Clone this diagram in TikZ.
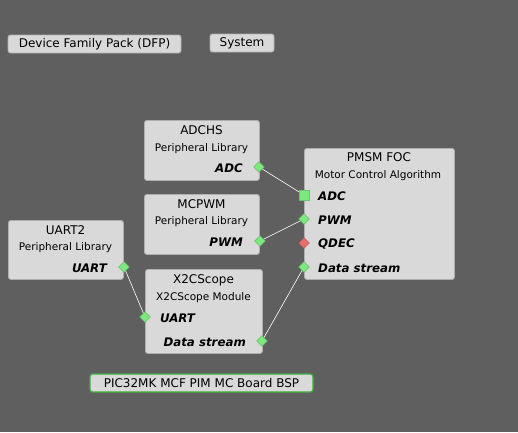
\documentclass[tikz,border=0pt]{standalone}
\usepackage{fontspec}
\setmainfont{DejaVu Sans}
\usetikzlibrary{shapes.geometric}
\definecolor{bg}{RGB}{95,95,95}
\definecolor{boxfill}{RGB}{217,217,217}
\definecolor{boxline}{RGB}{175,175,175}
\definecolor{portg}{RGB}{125,232,125}
\definecolor{portr}{RGB}{232,110,110}
\definecolor{bspline}{RGB}{60,175,60}
\tikzset{
  comp/.style={draw=boxline, fill=boxfill, rounded corners=2.5pt, line width=0.9pt, anchor=north west, inner sep=0},
  btn/.style={draw=boxline, fill=boxfill, rounded corners=2.5pt, line width=0.9pt, inner sep=0, font=\fontsize{12}{14}\selectfont},
  ttl/.style={font=\fontsize{12}{14}\selectfont, inner sep=0},
  sub/.style={font=\fontsize{10.5}{12}\selectfont, inner sep=0},
  prt/.style={font=\fontsize{11.8}{14}\selectfont\bfseries\itshape, inner sep=0},
  gport/.style={diamond, fill=portg, draw=portg!75!black, line width=0.3pt, inner sep=0, minimum size=11},
  rport/.style={diamond, fill=portr, draw=portr!75!black, line width=0.3pt, inner sep=0, minimum size=11},
  sport/.style={rectangle, fill=portg, draw=portg!85!black, line width=0.3pt, inner sep=0, minimum size=10},
  conn/.style={draw=white, line width=0.6pt}
}
\begin{document}
\begin{tikzpicture}[x=1pt,y=-1pt]
\fill[bg] (0,0) rectangle (518,432);
\useasboundingbox (0,0) rectangle (518,432);

% buttons
\node[btn, minimum width=173, minimum height=18] (dfp) at (94.5,44) {Device Family Pack (DFP)};
\node[btn, minimum width=64, minimum height=18] (sys) at (242,43) {System};
\node[btn, draw=bspline, line width=1.3pt, minimum width=223, minimum height=18] (bsp) at (201.5,383) {PIC32MK MCF PIM MC Board BSP};

% ADCHS
\node[comp, minimum width=115, minimum height=60] (adchs) at (144,120) {};
\node[ttl] (adchst) at (201.5,130) {ADCHS};
\node[sub] (adchss) at (201.5,149) {Peripheral Library};
\node[prt, anchor=east] (adchsp) at (243,168) {ADC};
\node[gport] (adcout) at (259,167) {};

% MCPWM
\node[comp, minimum width=115, minimum height=60] (mcpwm) at (144,194) {};
\node[ttl] (mcpwmt) at (201.5,204) {MCPWM};
\node[sub] (mcpwms) at (201.5,222) {Peripheral Library};
\node[prt, anchor=east] (mcpwmp) at (243,242) {PWM};
\node[gport] (pwmout) at (260,241) {};

% UART2
\node[comp, minimum width=115, minimum height=59] (uart) at (8,220) {};
\node[ttl] (uartt) at (65.5,230) {UART2};
\node[sub] (uarts) at (65.5,248) {Peripheral Library};
\node[prt, anchor=east] (uartp) at (107,268) {UART};
\node[gport] (uartout) at (124,267) {};

% X2CScope
\node[comp, minimum width=117, minimum height=84] (x2c) at (145,269) {};
\node[ttl] (x2ct) at (203.5,280) {X2CScope};
\node[sub] (x2cs) at (203.5,298) {X2CScope Module};
\node[prt, anchor=west] (x2cu) at (160,318) {UART};
\node[gport] (x2cin) at (145,317) {};
\node[prt, anchor=east] (x2cd) at (246,342) {Data stream};
\node[gport] (x2cout) at (262,341) {};

% PMSM FOC
\node[comp, minimum width=150, minimum height=131] (foc) at (304,148) {};
\node[ttl] (foct) at (379,157) {PMSM FOC};
\node[sub] (focs) at (378,176) {Motor Control Algorithm};
\node[prt, anchor=west] (foca) at (318,196) {ADC};
\node[prt, anchor=west] (focp) at (318,220) {PWM};
\node[prt, anchor=west] (focq) at (318,244) {QDEC};
\node[prt, anchor=west] (focd) at (318,268) {Data stream};
\node[sport] (adcin) at (304,195) {};
\node[gport] (pwmin) at (304,219) {};
\node[rport] (qdecin) at (304,243) {};
\node[gport] (datain) at (304,267) {};

% connectors
\draw[conn] (adcout) -- (adcin);
\draw[conn] (pwmout) -- (pwmin);
\draw[conn] (uartout) -- (x2cin);
\draw[conn] (x2cout) -- (datain);
\end{tikzpicture}
\end{document}
